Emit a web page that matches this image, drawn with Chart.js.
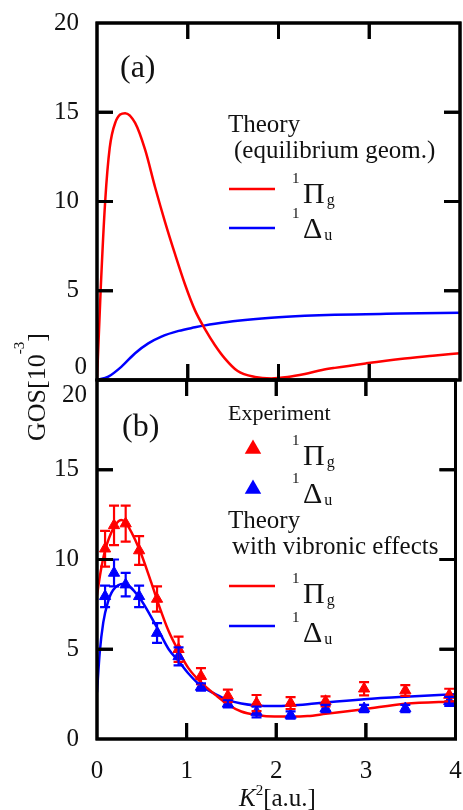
<!DOCTYPE html>
<html>
<head>
<meta charset="utf-8">
<script src="https://cdn.jsdelivr.net/npm/chart.js@4.4.1/dist/chart.umd.min.js"></script>
<style>
  html, body { margin: 0; padding: 0; background: #fff; }
  #wrap { position: relative; width: 463px; height: 810px; overflow: hidden; }
  canvas { position: absolute; left: 0; }
  #chartA { top: 0; }
  #chartB { top: 290px; }
</style>
</head>
<body>
<div id="wrap">
  <canvas id="chartA" width="463" height="400"></canvas>
  <canvas id="chartB" width="463" height="520"></canvas>
</div>
<script>
const xTicks = [0, 1, 2, 3, 4];
const yTicks = [0, 5, 10, 15, 20];

// (a) theory, equilibrium geometry
const aPiK = [0, 0.04, 0.09, 0.14, 0.2, 0.31, 0.42, 0.53, 0.64, 0.75, 0.86, 0.97, 1.08, 1.19, 1.3, 1.41, 1.55, 1.74, 1.92, 2.1, 2.29, 2.48, 2.62, 2.96, 3.34, 3.7, 4.0];
const aPiGos = [0, 5, 10, 13, 14.4, 14.95, 14.4, 12.9, 10.8, 8.85, 7.05, 5.35, 3.9, 2.85, 1.95, 1.2, 0.5, 0.17, 0.09, 0.17, 0.34, 0.56, 0.68, 0.93, 1.18, 1.36, 1.5];
const aDeltaK = [0, 0.125, 0.27, 0.42, 0.565, 0.71, 0.9, 1.08, 1.19, 1.3, 1.55, 1.92, 2.29, 2.62, 3.34, 4.0];
const aDeltaGos = [0, 0.19, 0.75, 1.5, 2.05, 2.43, 2.75, 2.95, 3.06, 3.15, 3.32, 3.49, 3.6, 3.66, 3.72, 3.77];

// (b) experiment
const expK = [0.09, 0.19, 0.32, 0.47, 0.67, 0.91, 1.16, 1.46, 1.78, 2.16, 2.55, 2.98, 3.44, 3.93];
const expPi = [10.6, 11.9, 12.0, 10.5, 7.8, 5.0, 3.5, 2.4, 2.0, 2.0, 2.1, 2.8, 2.7, 2.45];
const expPiErr = [1.0, 1.1, 1.0, 0.8, 0.7, 0.7, 0.45, 0.35, 0.45, 0.33, 0.28, 0.37, 0.3, 0.35];
const expDelta = [7.95, 9.25, 8.6, 7.95, 5.9, 4.6, 2.9, 1.96, 1.5, 1.34, 1.7, 1.7, 1.7, 2.1];
const expDeltaErr = [0.6, 0.75, 0.65, 0.6, 0.55, 0.5, 0.2, 0.2, 0.3, 0.2, 0.2, 0.2, 0.2, 0.25];

// (b) theory with vibronic effects
const bPiK = [0, 0.04, 0.09, 0.19, 0.27, 0.32, 0.47, 0.6, 0.68, 0.8, 0.91, 1.02, 1.16, 1.32, 1.46, 1.61, 1.78, 1.98, 2.16, 2.35, 2.55, 2.98, 3.44, 4.0];
const bPiGos = [8.0, 9.3, 10.5, 11.8, 12.2, 12.05, 10.6, 8.8, 7.6, 6.0, 4.9, 3.95, 3.15, 2.46, 1.92, 1.53, 1.34, 1.25, 1.25, 1.28, 1.4, 1.66, 1.96, 2.09];
const bDeltaK = [0, 0.03, 0.07, 0.12, 0.18, 0.3, 0.47, 0.67, 0.8, 0.91, 1.02, 1.16, 1.32, 1.46, 1.61, 1.78, 1.98, 2.16, 2.35, 2.55, 2.98, 3.44, 4.0];
const bDeltaGos = [2.6, 4.8, 6.5, 7.6, 8.3, 8.65, 7.9, 6.2, 5.0, 4.35, 3.65, 2.96, 2.5, 2.18, 1.98, 1.87, 1.84, 1.87, 1.94, 2.04, 2.22, 2.36, 2.5];

const RED = "#ff0000";
const BLUE = "#0000ff";
const INK = "#111";
const SERIF = '"Liberation Serif", "Times New Roman", serif';

const pts = (xs, ys) => xs.map((x, i) => ({ x, y: ys[i] }));

function lineSet(xs, ys, color) {
  return {
    data: pts(xs, ys),
    borderColor: color,
    borderWidth: 2.5,
    pointRadius: 0,
    cubicInterpolationMode: "monotone",
    fill: false,
  };
}

function markSet(xs, ys, errs, color) {
  return {
    data: pts(xs, ys),
    errs,
    showLine: false,
    pointStyle: "triangle",
    pointRadius: 6.5,
    backgroundColor: color,
    borderColor: color,
    borderWidth: 1,
  };
}

function rich(ctx, x, y, parts) {
  ctx.fillStyle = INK;
  for (const p of parts) {
    ctx.font = (p.italic ? "italic " : "") + p.size + "px " + SERIF;
    ctx.fillText(p.t, x + (p.dx || 0), y + (p.dy || 0));
    x += (p.dx || 0) + ctx.measureText(p.t).width;
  }
}

// ¹Π_g style term symbol, y = baseline of the big letter
function term(ctx, x, y, sym, sub) {
  rich(ctx, x, y - 20, [{ t: "1", size: 15 }]);
  ctx.font = "30px " + SERIF;
  const w = ctx.measureText(sym).width;
  rich(ctx, x + 11, y, [{ t: sym, size: 30 }]);
  rich(ctx, x + 11 + w + 2, y + 2, [{ t: sub, size: 16 }]);
}

function triangle(ctx, cx, cy, r, color) {
  ctx.fillStyle = color;
  ctx.beginPath();
  ctx.moveTo(cx, cy - r);
  ctx.lineTo(cx + r * 0.866, cy + r * 0.5);
  ctx.lineTo(cx - r * 0.866, cy + r * 0.5);
  ctx.closePath();
  ctx.fill();
}

function sample(ctx, x1, x2, y, color) {
  ctx.fillStyle = color;
  ctx.fillRect(x1, y - 1.25, x2 - x1, 2.5);
}

// closed frame with inward ticks on all four sides
function drawFrame(chart) {
  const ctx = chart.ctx;
  const a = chart.chartArea;
  const xs = chart.scales.x, ys = chart.scales.y;
  const tl = 16, lw = 3;
  ctx.save();
  ctx.globalAlpha = 1;
  ctx.globalCompositeOperation = "source-over";
  ctx.strokeStyle = "#000";
  ctx.lineWidth = lw;
  ctx.lineCap = "butt";
  ctx.strokeRect(a.left, a.top, a.right - a.left, a.bottom - a.top);
  ctx.beginPath();
  for (let i = 1; i < xTicks.length - 1; i++) {
    const px = xs.getPixelForValue(xTicks[i]);
    ctx.moveTo(px, a.top);
    ctx.lineTo(px, a.top + tl);
    ctx.moveTo(px, a.bottom);
    ctx.lineTo(px, a.bottom - tl);
  }
  for (let i = 1; i < yTicks.length - 1; i++) {
    const py = ys.getPixelForValue(yTicks[i]);
    ctx.moveTo(a.left, py);
    ctx.lineTo(a.left + tl, py);
    ctx.moveTo(a.right, py);
    ctx.lineTo(a.right - tl, py);
  }
  ctx.stroke();
  ctx.restore();
}

// error bars through the y scale, then the frame
const errorBars = {
  id: "errorBars",
  afterDatasetsDraw(chart) {
    const ctx = chart.ctx;
    const ys = chart.scales.y;
    chart.data.datasets.forEach((ds, i) => {
      if (!ds.errs) return;
      const meta = chart.getDatasetMeta(i);
      ctx.save();
      ctx.strokeStyle = ds.borderColor;
      ctx.lineWidth = 2.2;
      meta.data.forEach((el, j) => {
        const v = ds.data[j].y, e = ds.errs[j];
        const y1 = ys.getPixelForValue(v + e), y2 = ys.getPixelForValue(v - e);
        ctx.beginPath();
        ctx.moveTo(el.x, y1); ctx.lineTo(el.x, y2);
        ctx.moveTo(el.x - 5, y1); ctx.lineTo(el.x + 5, y1);
        ctx.moveTo(el.x - 5, y2); ctx.lineTo(el.x + 5, y2);
        ctx.stroke();
      });
      ctx.restore();
    });
    drawFrame(chart);
  },
};

function yAxis(hidden) {
  return {
    type: "linear",
    min: 0,
    max: 20,
    grid: { display: false },
    border: { display: false },
    ticks: {
      stepSize: 5,
      padding: 10,
      color: INK,
      font: { family: SERIF, size: 25 },
      callback: (v) => (v === hidden ? "" : v),
    },
    afterFit(s) {
      s.width = 97;
      s.paddingTop = 0;
      s.paddingBottom = 0;
    },
  };
}

function makeChart(id, datasets, padding, xAxis, hiddenY, offsetY, draw) {
  // legend and free texts, in page coordinates
  const notes = {
    id: "notes",
    afterDraw(chart) {
      const ctx = chart.ctx;
      drawFrame(chart);
      ctx.save();
      ctx.translate(0, -offsetY);
      ctx.textAlign = "left";
      ctx.textBaseline = "alphabetic";
      draw(ctx);
      ctx.restore();
    },
  };
  return new Chart(document.getElementById(id), {
    type: "line",
    data: { datasets },
    options: {
      responsive: false,
      animation: false,
      events: [],
      layout: { padding },
      plugins: {
        legend: { display: false },
        tooltip: { enabled: false },
      },
      scales: { x: xAxis, y: yAxis(hiddenY) },
    },
    plugins: [errorBars, notes],
  });
}

// panel (a)
makeChart(
  "chartA",
  [lineSet(aPiK, aPiGos, RED), lineSet(aDeltaK, aDeltaGos, BLUE)],
  { top: 23, left: 0, right: 3, bottom: 20 },
  {
    type: "linear",
    min: 0,
    max: 4,
    grid: { display: false },
    border: { display: false },
    ticks: { display: false, stepSize: 1 },
    afterFit(s) {
      s.height = 0;
      s.paddingLeft = 0;
      s.paddingRight = 0;
    },
  },
  0,
  0,
  (ctx) => {
    ctx.fillStyle = INK;
    ctx.textAlign = "right";
    ctx.textBaseline = "middle";
    ctx.font = "25px " + SERIF;
    ctx.fillText("0", 87, 367);
    ctx.textAlign = "left";
    ctx.textBaseline = "alphabetic";
    rich(ctx, 120, 77, [{ t: "(a)", size: 32 }]);
    rich(ctx, 228, 132, [{ t: "Theory", size: 25 }]);
    rich(ctx, 234, 158, [{ t: "(equilibrium geom.)", size: 25 }]);
    sample(ctx, 229, 275, 189, RED);
    sample(ctx, 229, 275, 228, BLUE);
    term(ctx, 292, 203, "\u03A0", "g");
    term(ctx, 292, 238, "\u0394", "u");
  }
);

// panel (b)
makeChart(
  "chartB",
  [
    markSet(expK, expPi, expPiErr, RED),
    markSet(expK, expDelta, expDeltaErr, BLUE),
    lineSet(bPiK, bPiGos, RED),
    lineSet(bDeltaK, bDeltaGos, BLUE),
  ],
  { top: 90, left: 0, right: 3, bottom: 0 },
  {
    type: "linear",
    min: 0,
    max: 4,
    grid: { display: false },
    border: { display: false },
    ticks: {
      stepSize: 1,
      padding: 9,
      maxRotation: 0,
      autoSkip: false,
      color: INK,
      font: { family: SERIF, size: 25 },
    },
    afterFit(s) {
      s.height = 71;
      s.paddingLeft = 0;
      s.paddingRight = 0;
    },
  },
  20,
  290,
  (ctx) => {
    ctx.fillStyle = INK;
    ctx.textAlign = "right";
    ctx.textBaseline = "middle";
    ctx.font = "25px " + SERIF;
    ctx.fillText("20", 87, 395);
    ctx.textAlign = "left";
    ctx.textBaseline = "alphabetic";
    rich(ctx, 122, 436, [{ t: "(b)", size: 32 }]);
    rich(ctx, 228, 420, [{ t: "Experiment", size: 22 }]);
    triangle(ctx, 253, 449, 9.5, RED);
    triangle(ctx, 253, 489, 9.5, BLUE);
    term(ctx, 292, 465, "\u03A0", "g");
    term(ctx, 292, 503, "\u0394", "u");
    rich(ctx, 228, 528, [{ t: "Theory", size: 25 }]);
    rich(ctx, 232, 554, [{ t: "with vibronic effects", size: 25 }]);
    sample(ctx, 229, 275, 586, RED);
    sample(ctx, 229, 275, 626, BLUE);
    term(ctx, 292, 603, "\u03A0", "g");
    term(ctx, 292, 642, "\u0394", "u");
    // x title
    rich(ctx, 239, 806, [
      { t: "K", size: 25, italic: true },
      { t: "2", size: 15, dy: -11 },
      { t: "[a.u.]", size: 25 },
    ]);
    // y title, rotated
    ctx.save();
    ctx.translate(45, 441);
    ctx.rotate(-Math.PI / 2);
    rich(ctx, 0, 0, [
      { t: "GOS[10", size: 26 },
      { t: "-3", size: 15, dy: -21 },
      { t: "]", size: 26 },
    ]);
    ctx.restore();
  }
);
</script>
</body>
</html>
